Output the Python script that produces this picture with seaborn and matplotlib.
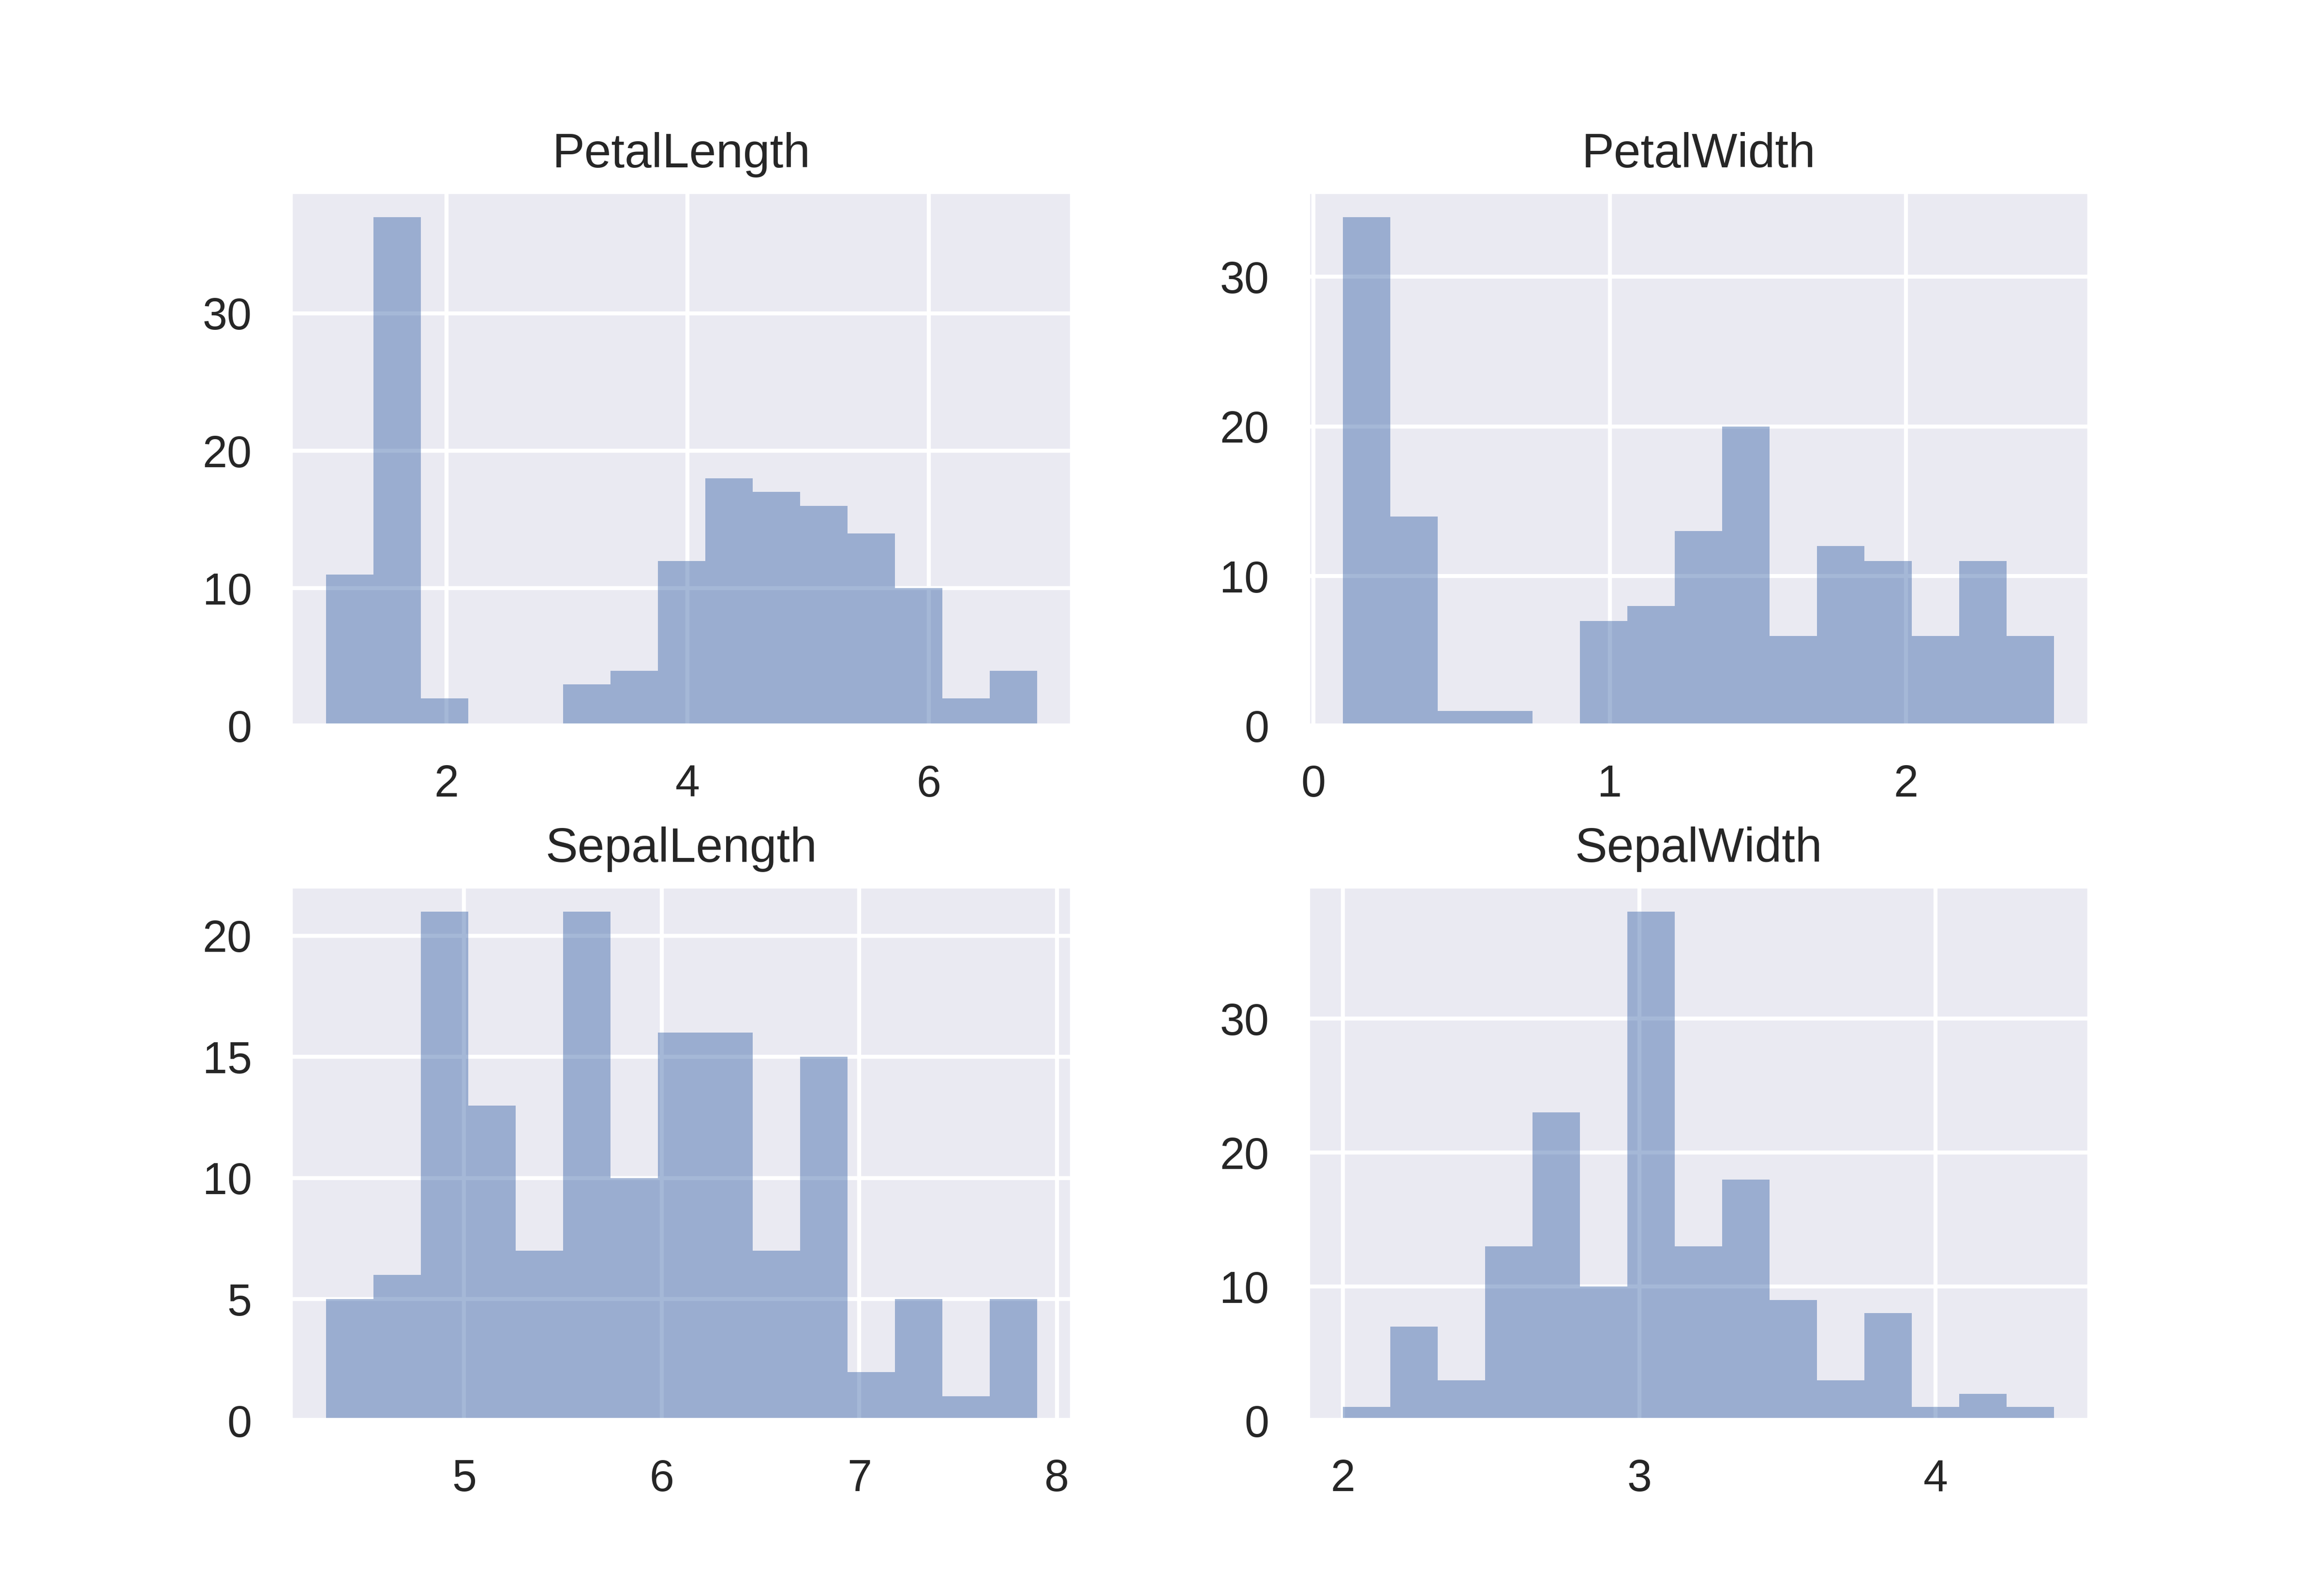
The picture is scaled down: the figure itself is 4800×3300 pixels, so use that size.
import numpy as np
import matplotlib
matplotlib.use("Agg")
import matplotlib.pyplot as plt
import seaborn as sns

# bin counts (15 bins between min and max)
petal_length_range = (1.0, 6.9)
petal_length_counts = [11, 37, 2, 0, 0, 3, 4, 12, 18, 17, 16, 14, 10, 2, 4]

petal_width_range = (0.1, 2.5)
petal_width_counts = [34, 14, 1, 1, 0, 7, 8, 13, 20, 6, 12, 11, 6, 11, 6]

sepal_length_range = (4.3, 7.9)
sepal_length_counts = [5, 6, 21, 13, 7, 21, 10, 16, 16, 7, 15, 2, 5, 1, 5]

sepal_width_range = (2.0, 4.4)
sepal_width_counts = [1, 7, 3, 13, 23, 10, 38, 13, 18, 9, 3, 8, 1, 2, 1]

titles = ["PetalLength", "PetalWidth", "SepalLength", "SepalWidth"]
ranges = [petal_length_range, petal_width_range, sepal_length_range, sepal_width_range]
counts = [petal_length_counts, petal_width_counts, sepal_length_counts, sepal_width_counts]

sns.set_theme(style="darkgrid")
plt.rcParams['font.family'] = ['Liberation Sans', 'DejaVu Sans']

fig, axes = plt.subplots(2, 2, figsize=(8, 5.5))
for ax, title, (lo, hi), c in zip(axes.flat, titles, ranges, counts):
    edges = np.linspace(lo, hi, len(c) + 1)
    centers = (edges[:-1] + edges[1:]) / 2
    ax.hist(centers, bins=edges, weights=c, color=sns.color_palette()[0],
            alpha=0.5, linewidth=0)
    ax.set_title(title)
fig.subplots_adjust(wspace=0.3, hspace=0.3)

fig.savefig("out.png", dpi=600)
